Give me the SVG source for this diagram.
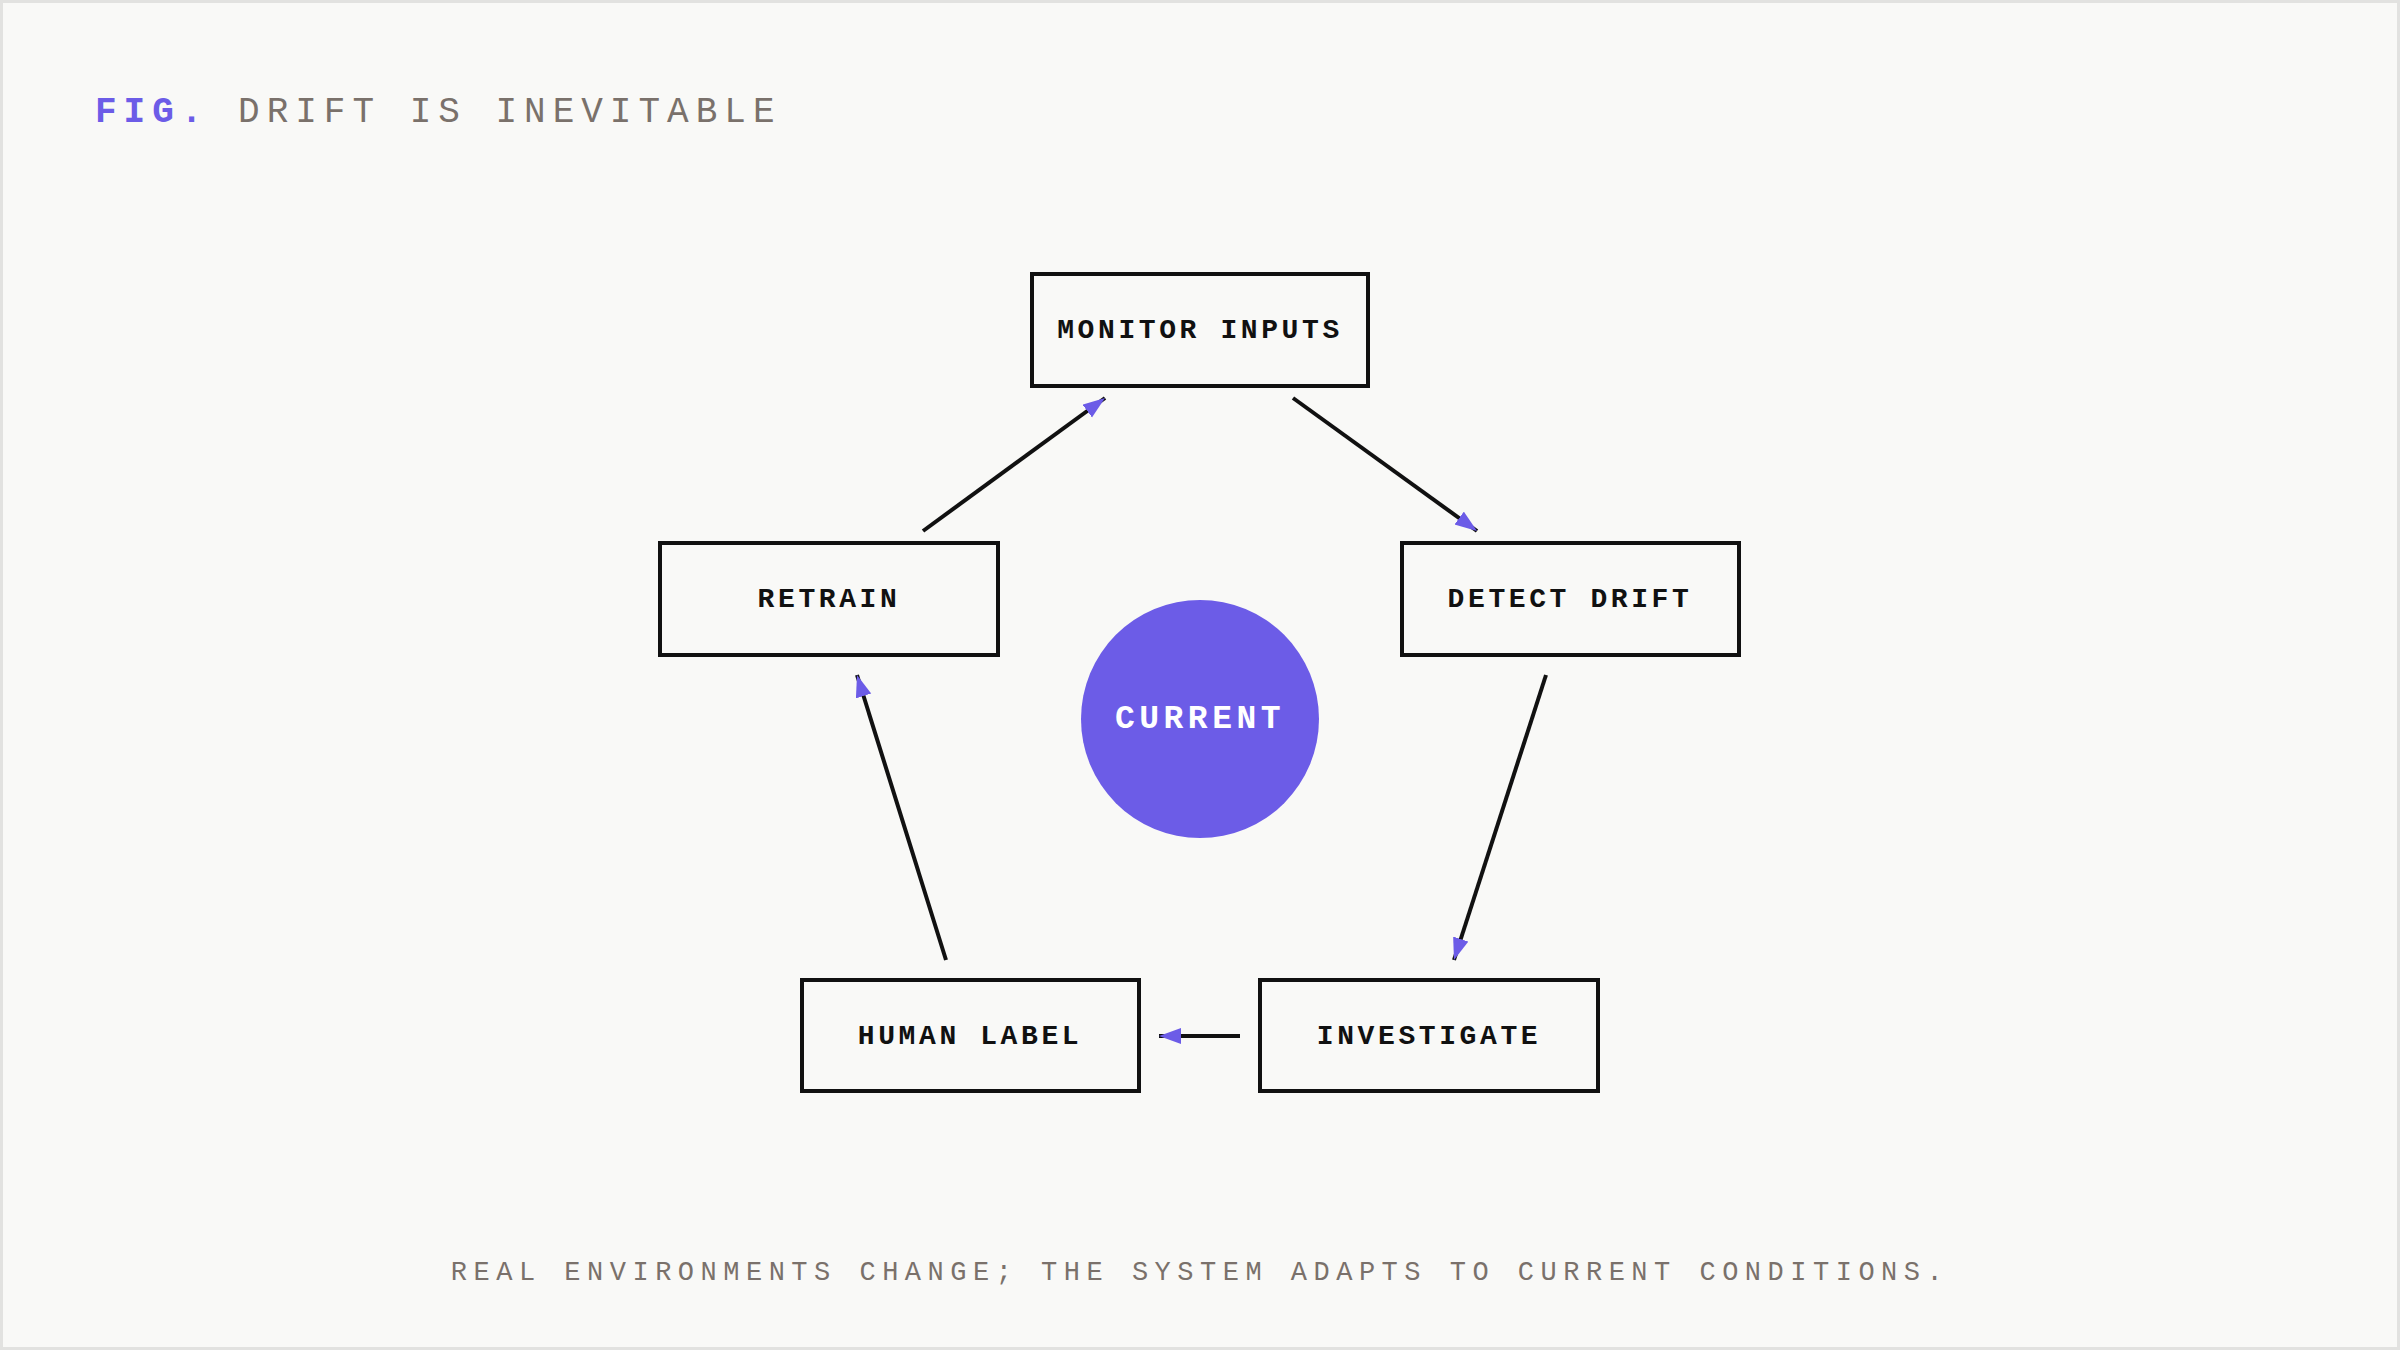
<svg xmlns="http://www.w3.org/2000/svg" width="2400" height="1350" viewBox="0 0 2400 1350">
<style>
.node rect{fill:none;stroke:#111;stroke-width:4}
.nl{font-family:"Liberation Mono","DejaVu Sans Mono",monospace;font-weight:bold;font-size:28px;letter-spacing:3.6px;fill:#111;text-anchor:middle;dominant-baseline:central}
.con line{stroke:#111;stroke-width:4}
.mono{font-family:"Liberation Mono","DejaVu Sans Mono",monospace}
</style>
<defs>
<marker id="ah" markerUnits="userSpaceOnUse" markerWidth="24" markerHeight="18" refX="22" refY="8" orient="auto">
<path d="M0,0 L22,8 L0,16 Z" fill="#6c5ce7"/>
</marker>
</defs>
<rect x="1.5" y="1.5" width="2397" height="1347" fill="#f9f9f7" stroke="#e2e2e0" stroke-width="3"/>
<text class="mono" x="95" y="122" font-size="36" letter-spacing="7" fill="#7a716b"><tspan fill="#6c5ce7" font-weight="bold">FIG.</tspan> DRIFT IS INEVITABLE</text>
<g class="con">
<line x1="1293" y1="398" x2="1477" y2="531" marker-end="url(#ah)"/>
<line x1="1546" y1="675" x2="1454" y2="960" marker-end="url(#ah)"/>
<line x1="1240" y1="1036" x2="1159" y2="1036" marker-end="url(#ah)"/>
<line x1="946" y1="960" x2="857" y2="675" marker-end="url(#ah)"/>
<line x1="923" y1="531" x2="1105" y2="398" marker-end="url(#ah)"/>
</g>
<g id="monitor" class="node"><rect x="1032" y="274" width="336" height="112"/><text class="nl" x="1200" y="330">MONITOR INPUTS</text></g>
<g id="detect" class="node"><rect x="1402" y="543" width="337" height="112"/><text class="nl" x="1570" y="599">DETECT DRIFT</text></g>
<g id="investigate" class="node"><rect x="1260" y="980" width="338" height="111"/><text class="nl" x="1429" y="1036">INVESTIGATE</text></g>
<g id="human" class="node"><rect x="802" y="980" width="337" height="111"/><text class="nl" x="970" y="1036">HUMAN LABEL</text></g>
<g id="retrain" class="node"><rect x="660" y="543" width="338" height="112"/><text class="nl" x="829" y="599">RETRAIN</text></g>
<g id="current"><circle cx="1200" cy="719" r="119" fill="#6c5ce7"/><text class="mono" x="1200" y="719" font-size="33" font-weight="bold" letter-spacing="4.5" fill="#fff" text-anchor="middle" dominant-baseline="central">CURRENT</text></g>
<text class="mono" x="1200" y="1280" font-size="27" letter-spacing="6.5" fill="#7a716b" text-anchor="middle">REAL ENVIRONMENTS CHANGE; THE SYSTEM ADAPTS TO CURRENT CONDITIONS.</text>
</svg>
